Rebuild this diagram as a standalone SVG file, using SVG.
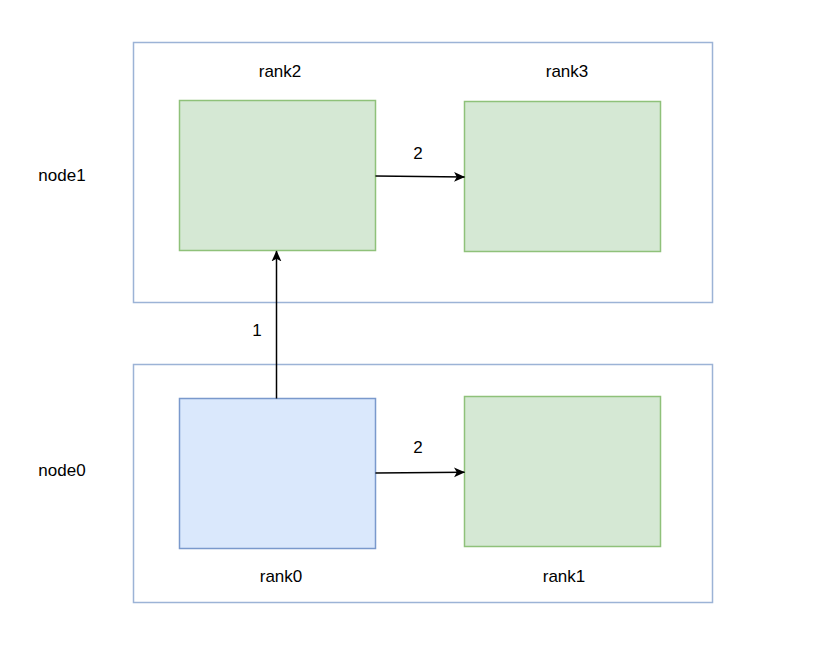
<svg xmlns="http://www.w3.org/2000/svg" width="814" height="655" viewBox="0 0 814 655">
<style>
.cont{fill:#ffffff;stroke:#9cb3d6;stroke-width:1.5}
.green{fill:#d5e8d4;stroke:#8fc17a;stroke-width:1.5}
.blue{fill:#dae8fc;stroke:#7a99cc;stroke-width:1.5}
text{font-family:"Liberation Sans",Arial,sans-serif;font-size:17px;fill:#000;text-anchor:middle}
.edge{fill:none;stroke:#000;stroke-width:1.5}
</style>
<defs>
<marker id="arr" viewBox="0 0 10 10" refX="9.5" refY="5" markerWidth="11" markerHeight="11" markerUnits="userSpaceOnUse" orient="auto">
<path d="M0,0.5 L10,5 L0,9.5 L2.5,5 Z" fill="#000"/>
</marker>
</defs>
<rect width="814" height="655" fill="#ffffff"/>
<g id="node1">
<rect class="cont" x="133.5" y="42.5" width="579" height="260"/>
<text x="62" y="181">node1</text>
</g>
<g id="node0">
<rect class="cont" x="133.5" y="364.5" width="579" height="238"/>
<text x="62" y="476">node0</text>
</g>
<g id="rank2">
<rect class="green" x="179.5" y="100.5" width="196" height="150"/>
<text x="280" y="77">rank2</text>
</g>
<g id="rank3">
<rect class="green" x="464.5" y="101.5" width="196" height="150"/>
<text x="567" y="77">rank3</text>
</g>
<g id="rank0">
<rect class="blue" x="179.5" y="398.5" width="196" height="150"/>
<text x="281" y="582">rank0</text>
</g>
<g id="rank1">
<rect class="green" x="464.5" y="396.5" width="196" height="150"/>
<text x="564" y="582">rank1</text>
</g>
<g id="connectors">
<path class="edge" d="M375.5,176 L464.5,177" marker-end="url(#arr)"/>
<text x="418" y="159">2</text>
<path class="edge" d="M375.5,473 L464.5,472.3" marker-end="url(#arr)"/>
<text x="418" y="453">2</text>
<path class="edge" d="M276.5,398.5 L276.5,251" marker-end="url(#arr)"/>
<text x="257" y="336">1</text>
</g>
</svg>
